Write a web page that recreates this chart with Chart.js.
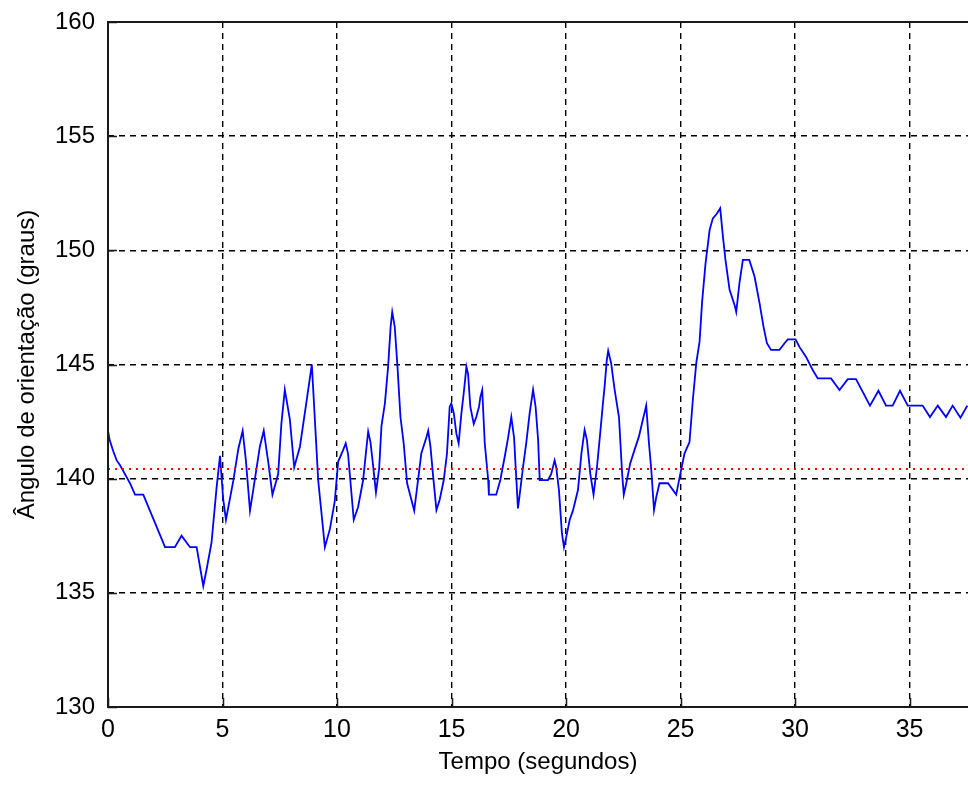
<!DOCTYPE html>
<html>
<head>
<meta charset="utf-8">
<title>Ângulo de orientação</title>
<script src="https://cdn.jsdelivr.net/npm/chart.js@4/dist/chart.umd.min.js"></script>
<style>
  html, body { margin: 0; padding: 0; background: #fff; }
  #wrap { width: 968px; height: 785px; }
</style>
</head>
<body>
<div id="wrap"><canvas id="c" width="968" height="785"></canvas></div>
<script>
// Orientation angle samples (time in seconds, angle in degrees)
const timeSec = [
  0, 0.07, 0.23, 0.38, 0.52, 0.74, 0.96, 1.18, 1.54, 1.83, 2.12, 2.49, 2.92, 3.21, 3.58, 3.87,
  4.16, 4.30, 4.52, 4.74, 4.89, 5.03, 5.15, 5.47, 5.69, 5.88, 6.02, 6.20, 6.34, 6.63, 6.80, 7.00,
  7.18, 7.43, 7.57, 7.72, 7.94, 8.13, 8.38, 8.67, 8.90, 9.18, 9.47, 9.69, 9.90, 10.05, 10.27, 10.38,
  10.48, 10.58, 10.73, 10.92, 11.14, 11.32, 11.36, 11.46, 11.55, 11.70, 11.84, 11.94, 12.09, 12.23,
  12.34, 12.41, 12.52, 12.64, 12.77, 12.91, 13.06, 13.25, 13.37, 13.50, 13.68, 13.90, 13.98, 14.08,
  14.20, 14.34, 14.48, 14.66, 14.80, 14.92, 14.99, 15.10, 15.21, 15.31, 15.43, 15.53, 15.65, 15.72,
  15.82, 15.97, 16.08, 16.20, 16.26, 16.34, 16.45, 16.60, 16.63, 16.95, 17.13, 17.32, 17.47, 17.61,
  17.73, 17.80, 17.90, 18.00, 18.12, 18.26, 18.41, 18.56, 18.67, 18.78, 18.85, 19.21, 19.35, 19.50,
  19.57, 19.69, 19.82, 19.91, 20.01, 20.16, 20.30, 20.52, 20.67, 20.81, 20.91, 21.06, 21.20, 21.35,
  21.49, 21.61, 21.68, 21.78, 21.84, 21.97, 22.12, 22.31, 22.45, 22.52, 22.63, 22.80, 22.99, 23.18,
  23.35, 23.50, 23.62, 23.72, 23.84, 23.94, 24.08, 24.45, 24.81, 24.96, 25.17, 25.39, 25.54, 25.69,
  25.83, 25.94, 26.09, 26.27, 26.41, 26.58, 26.73, 26.85, 26.96, 27.14, 27.36, 27.43, 27.57, 27.72,
  28.00, 28.23, 28.45, 28.62, 28.77, 28.95, 29.32, 29.54, 29.68, 30.02, 30.19, 30.48, 30.77, 30.99,
  31.57, 31.94, 32.30, 32.66, 33.27, 33.64, 33.97, 34.26, 34.58, 34.92, 35.57, 35.89, 36.23, 36.59,
  36.88, 37.22, 37.52
];
const angleDeg = [
  142.1, 141.7, 141.2, 140.8, 140.6, 140.2, 139.8, 139.3, 139.3, 138.6, 137.9, 137.0, 137.0, 137.5, 137.0, 137.0,
  135.3, 136.0, 137.2, 139.6, 141.0, 139.1, 138.2, 139.9, 141.3, 142.1, 140.8, 138.6, 139.5, 141.4, 142.1, 140.7,
  139.3, 140.2, 142.4, 143.9, 142.6, 140.5, 141.4, 143.4, 145.0, 139.9, 137.0, 137.8, 139.0, 140.75, 141.26, 141.55,
  141.1, 139.94, 138.2, 138.76, 139.94, 141.7, 142.06, 141.6, 140.8, 139.4, 140.45, 142.3, 143.3, 144.9,
  146.65, 147.3, 146.65, 144.9, 142.7, 141.55, 139.8, 139.07, 138.6, 139.64, 141.1, 141.8, 142.1, 141.4,
  140.07, 138.63, 139.07, 139.94, 141.1, 143.15, 143.3, 142.86, 141.98, 141.55, 142.86, 143.73, 144.9, 144.6,
  143.15, 142.4, 142.7, 143.15, 143.58, 143.88, 141.55, 139.94, 139.3, 139.3, 139.94, 140.95, 141.8, 142.7,
  141.8, 140.5, 138.7, 139.5, 140.5, 141.55, 142.86, 143.9, 143.15, 141.7, 139.94, 139.94, 140.2, 140.8,
  140.5, 139.5, 137.6, 137.0, 137.45, 138.2, 138.6, 139.5, 141.1, 142.13, 141.7, 140.2, 139.3, 140.5,
  141.98, 143.3, 144.0, 145.2, 145.6, 145.05, 143.9, 142.7, 140.2, 139.3, 139.8, 140.67, 141.26, 141.84,
  142.57, 143.2, 141.55, 140.4, 138.63, 139.2, 139.8, 139.8, 139.3, 140.07, 141.1, 141.6, 143.5, 145.1,
  146.0, 147.74, 149.43, 150.9, 151.4, 151.6, 151.84, 150.6, 149.58, 148.27, 147.6, 147.3, 148.55, 149.58,
  149.58, 148.85, 147.68, 146.66, 145.93, 145.64, 145.64, 145.93, 146.1, 146.1, 145.77, 145.33, 144.76, 144.39,
  144.39, 143.88, 144.36, 144.36, 143.2, 143.85, 143.2, 143.2, 143.85, 143.2, 143.2, 142.7, 143.2, 142.7,
  143.2, 142.67, 143.2
];
// Mean reference level (degrees)
const referenceAngle = 140.42;

// Axis ranges and tick labels
const xRange = [0, 37.55];
const yRange = [130, 160];
const xTickValues = [0, 5, 10, 15, 20, 25, 30, 35];
const yTickValues = [130, 135, 140, 145, 150, 155, 160];

const FONT = '"Liberation Sans", Arial, sans-serif';

const seriesPoints = timeSec.map((t, i) => ({ x: t, y: angleDeg[i] }));
const referencePoints = [{ x: xRange[0], y: referenceAngle }, { x: xRange[1], y: referenceAngle }];

// Axes box (left, top, bottom) and inward tick marks
const axesBox = {
  id: 'axesBox',
  afterDatasetsDraw(chart) {
    const { ctx, chartArea: a, scales: { x, y } } = chart;
    ctx.save();
    ctx.strokeStyle = '#1a1a1a';
    ctx.lineWidth = 2;
    ctx.beginPath();
    ctx.moveTo(a.right + 2, a.top);
    ctx.lineTo(a.left, a.top);
    ctx.lineTo(a.left, a.bottom);
    ctx.lineTo(a.right + 2, a.bottom);
    ctx.stroke();
    ctx.lineWidth = 1.5;
    ctx.beginPath();
    xTickValues.forEach(v => {
      const px = Math.round(x.getPixelForValue(v)) + 0.5;
      ctx.moveTo(px, a.bottom);
      ctx.lineTo(px, a.bottom - 9);
    });
    yTickValues.forEach(v => {
      const py = Math.round(y.getPixelForValue(v)) + 0.5;
      ctx.moveTo(a.left, py);
      ctx.lineTo(a.left + 9, py);
    });
    ctx.stroke();
    ctx.restore();
  }
};

new Chart(document.getElementById('c'), {
  type: 'scatter',
  data: {
    datasets: [
      {
        data: referencePoints,
        showLine: true,
        borderColor: '#ff0000',
        borderWidth: 2,
        borderDash: [2, 5],
        pointRadius: 0,
        fill: false
      },
      {
        data: seriesPoints,
        showLine: true,
        borderColor: '#0000ff',
        borderWidth: 1.8,
        pointRadius: 0,
        tension: 0,
        fill: false
      }
    ]
  },
  options: {
    responsive: false,
    animation: false,
    devicePixelRatio: 1,
    layout: { padding: { top: 22, right: 0, left: 0, bottom: 0 } },
    plugins: { legend: { display: false }, tooltip: { enabled: false } },
    scales: {
      x: {
        type: 'linear',
        min: xRange[0],
        max: xRange[1],
        afterBuildTicks(scale) {
          scale.ticks = xTickValues.map(v => ({ value: v }));
        },
        afterFit(scale) {
          scale.height = 78;
          scale.paddingLeft = 0;
          scale.paddingRight = 0;
        },
        ticks: {
          color: '#000',
          padding: 8,
          maxRotation: 0,
          autoSkip: false,
          font: { family: FONT, size: 25 },
          callback: v => String(v)
        },
        grid: { color: '#000', lineWidth: 1.4, drawTicks: false },
        border: { display: false, dash: [6, 5] },
        title: {
          display: true,
          text: 'Tempo (segundos)',
          color: '#000',
          font: { family: FONT, size: 24 },
          padding: { top: 0, bottom: 8 }
        }
      },
      y: {
        type: 'linear',
        min: yRange[0],
        max: yRange[1],
        afterBuildTicks(scale) {
          scale.ticks = yTickValues.map(v => ({ value: v }));
        },
        afterFit(scale) {
          scale.width = 108;
          scale.paddingTop = 0;
          scale.paddingBottom = 0;
        },
        ticks: {
          color: '#000',
          padding: 13,
          font: { family: FONT, size: 24 },
          callback: v => String(v)
        },
        grid: { color: '#000', lineWidth: 1.4, drawTicks: false },
        border: { display: false, dash: [6, 5] },
        title: {
          display: true,
          text: 'Ângulo de orientação (graus)',
          color: '#000',
          font: { family: FONT, size: 24 },
          padding: { top: 13, bottom: 0 }
        }
      }
    }
  },
  plugins: [axesBox]
});
</script>
</body>
</html>
